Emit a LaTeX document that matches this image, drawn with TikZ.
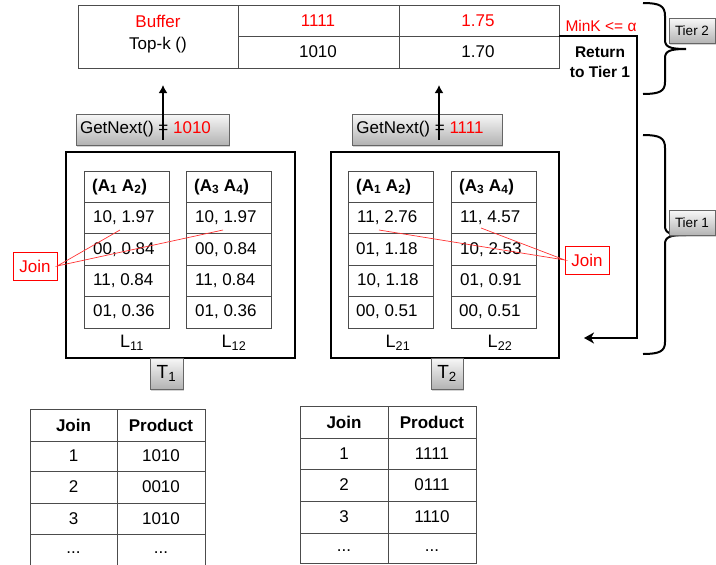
\documentclass[tikz,border=0pt]{standalone}
\usepackage{fontspec}
\setmainfont{Liberation Sans}
\usepackage{tikz}
\usetikzlibrary{shadows,arrows.meta}

\begin{document}
\begin{tikzpicture}[x=1pt,y=-1pt,
	every node/.style={font=\fontsize{17}{20}\selectfont},
	grid/.style={draw=black!70, line width=0.8pt},
	tbox/.style={draw=black, line width=2.2pt, inner sep=0pt},
	tag/.style={draw=black!60, top color=black!3, bottom color=black!30, drop shadow={opacity=0.35,shadow xshift=1pt,shadow yshift=-1.5pt}, inner sep=0pt},
	joinbox/.style={draw=red, text=red, minimum width=44pt, minimum height=28pt, inner sep=0pt},
	joinline/.style={red!80!white, line width=0.7pt},
	val/.style={anchor=west, inner sep=0pt},
	head/.style={font=\bfseries\fontsize{17}{20}\selectfont},
	lab/.style={font=\fontsize{18}{20}\selectfont},
	tierbrace/.style={line width=2pt},
	up/.style={-{Latex[length=8pt,width=9pt]}, line width=2pt}
	]
		\useasboundingbox (0,0) rectangle (716,565);
		%\draw [help lines,step=50] (0,0) grid (716,565);
		
		% buffer on top
		\draw[grid] (78,5) rectangle (559,68);
		\draw[grid] (238,5) -- (238,68) (399,5) -- (399,68) (238,36) -- (559,36);
		\node [text=red] (buf) at (158,21) {Buffer};
		\node (topk) at (158,45) {Top-k ()};
		\node [text=red] (b11) at (318,21) {1111};
		\node (b21) at (318,52) {1010};
		\node [text=red] (b12) at (478,21) {1.75};
		\node (b22) at (478,52) {1.70};
		\node [text=red,font=\fontsize{15.5}{18}\selectfont] (mink) at (601,26) {MinK <= α};
		\node [align=center,font=\bfseries\fontsize{15.5}{20}\selectfont] (ret) at (600,62) {Return\\to Tier 1};
		
		\coordinate (rs) at (559,36);
		\coordinate (re) at (584,338);
		\draw [line width=2pt,-{Stealth[length=10pt,width=11pt,inset=3pt]}] (rs) -- (637,36) -- (637,338) -- (re);
		
		% tiers
		\draw [tierbrace] (643,3) .. controls (660,3) and (665,6) .. (665,16) -- (665,40) .. controls (665,47) and (670,49) .. (686,49) .. controls (670,49) and (665,51) .. (665,58) -- (665,82) .. controls (665,91) and (660,94) .. (643,94);
		\draw [tierbrace] (643,135) .. controls (660,135) and (665,138) .. (665,148) -- (665,226) .. controls (665,233) and (670,235) .. (686,235) .. controls (670,235) and (665,237) .. (665,244) -- (665,342) .. controls (665,351) and (660,354) .. (643,354);
		\node [tag,minimum width=46pt,minimum height=25pt,font=\fontsize{13.5}{15}\selectfont] (tier2) at (692,31) {Tier 2};
		\node [tag,minimum width=46pt,minimum height=25pt,font=\fontsize{13.5}{15}\selectfont] (tier1) at (692,223) {Tier 1};
		
		% T1 and T2
		\node [tbox,minimum width=229pt,minimum height=206pt] (t1box) at (180.5,255) {};
		\node [tbox,minimum width=228pt,minimum height=206pt] (t2box) at (445,255) {};
		\node [tag,minimum width=33pt,minimum height=31pt,font=\fontsize{19}{20}\selectfont] (t1) at (166.5,373.5) {T\textsubscript{1}};
		\node [tag,minimum width=32pt,minimum height=31pt,font=\fontsize{19}{20}\selectfont] (t2) at (447,373.5) {T\textsubscript{2}};
		
		\node [tag,minimum width=153pt,minimum height=31pt] (gn1) at (152.5,129.5) {GetNext() = \textcolor{red}{1010}\rule{14pt}{0pt}};
		\node [tag,minimum width=150pt,minimum height=31pt] (gn2) at (427,129.5) {GetNext() = \textcolor{red}{1111}\rule{14pt}{0pt}};
		\coordinate (s1) at (163,140);
		\coordinate (a1) at (163,85);
		\coordinate (s2) at (439,140);
		\coordinate (a2) at (439,85);
		\draw [up] (s1) -- (a1);
		\draw [up] (s2) -- (a2);
		
		% lists L11 L12
		\draw [grid] (84,171) rectangle (169,328);
		\draw [grid] (84,202.4) -- (169,202.4) (84,233.8) -- (169,233.8) (84,265.2) -- (169,265.2) (84,296.6) -- (169,296.6);
		\draw [grid] (186,171) rectangle (271,328);
		\draw [grid] (186,202.4) -- (271,202.4) (186,233.8) -- (271,233.8) (186,265.2) -- (271,265.2) (186,296.6) -- (271,296.6);
		\node [val,head] (c11h) at (92,187) {(A\textsubscript{1} A\textsubscript{2})};
		\node [val] (c11a) at (93,218) {10, 1.97};
		\node [val] (c11b) at (93,249.5) {00, 0.84};
		\node [val] (c11c) at (93,281) {11, 0.84};
		\node [val] (c11d) at (93,312) {01, 0.36};
		\node [val,head] (c12h) at (194,187) {(A\textsubscript{3} A\textsubscript{4})};
		\node [val] (c12a) at (195,218) {10, 1.97};
		\node [val] (c12b) at (195,249.5) {00, 0.84};
		\node [val] (c12c) at (195,281) {11, 0.84};
		\node [val] (c12d) at (195,312) {01, 0.36};
		\node [lab] (l11) at (132,343) {L\textsubscript{11}};
		\node [lab] (l12) at (234,343) {L\textsubscript{12}};
		
		% lists L21 L22
		\draw [grid] (348,171) rectangle (433,328);
		\draw [grid] (348,202.4) -- (433,202.4) (348,233.8) -- (433,233.8) (348,265.2) -- (433,265.2) (348,296.6) -- (433,296.6);
		\draw [grid] (451,171) rectangle (536,328);
		\draw [grid] (451,202.4) -- (536,202.4) (451,233.8) -- (536,233.8) (451,265.2) -- (536,265.2) (451,296.6) -- (536,296.6);
		\node [val,head] (c21h) at (356,187) {(A\textsubscript{1} A\textsubscript{2})};
		\node [val] (c21a) at (357,218) {11, 2.76};
		\node [val] (c21b) at (356,249.5) {01, 1.18};
		\node [val] (c21c) at (357,281) {10, 1.18};
		\node [val] (c21d) at (356,312) {00, 0.51};
		\node [val,head] (c22h) at (459,187) {(A\textsubscript{3} A\textsubscript{4})};
		\node [val] (c22a) at (460,218) {11, 4.57};
		\node [val] (c22b) at (460,249.5) {10, 2.53};
		\node [val] (c22c) at (460,281) {01, 0.91};
		\node [val] (c22d) at (459,312) {00, 0.51};
		\node [lab] (l21) at (398,343) {L\textsubscript{21}};
		\node [lab] (l22) at (500,343) {L\textsubscript{22}};
		
		% joins
		\node [joinbox] (jl) at (35,266) {Join};
		\node [joinbox] (jr) at (587,260) {Join};
		\coordinate (jl1) at (120,230);
		\coordinate (jl2) at (223,230);
		\coordinate (jr1) at (379,230);
		\coordinate (jr2) at (481,228);
		\draw [joinline] (jl1) -- (jl.east) -- (jl2);
		\draw [joinline] (jr1) -- (jr.west) -- (jr2);
		
		% products of T1
		\draw [grid] (30,565) -- (30,409) -- (205,409) -- (205,565) (117,409) -- (117,565);
		\draw [grid] (30,441) -- (205,441) (30,471) -- (205,471) (30,503) -- (205,503) (30,534) -- (205,534);
		\node [head] (p1h) at (73.5,425) {Join};
		\node [head] (q1h) at (161,425) {Product};
		\node (p1a) at (73.5,456) {1};
		\node (q1a) at (161,456) {1010};
		\node (p1b) at (73.5,487) {2};
		\node (q1b) at (161,487) {0010};
		\node (p1c) at (73.5,518.5) {3};
		\node (q1c) at (161,518.5) {1010};
		\node (p1d) at (73.5,553) {...};
		\node (q1d) at (161,553) {...};
		
		% products of T2
		\draw [grid] (300,406) rectangle (476,563);
		\draw [grid] (388,406) -- (388,563);
		\draw [grid] (300,438) -- (476,438) (300,469) -- (476,469) (300,501) -- (476,501) (300,533) -- (476,533);
		\node [head] (p2h) at (344,422) {Join};
		\node [head] (q2h) at (432,422) {Product};
		\node (p2a) at (344,453.5) {1};
		\node (q2a) at (432,453.5) {1111};
		\node (p2b) at (344,485) {2};
		\node (q2b) at (432,485) {0111};
		\node (p2c) at (344,517) {3};
		\node (q2c) at (432,517) {1110};
		\node (p2d) at (344,551) {...};
		\node (q2d) at (432,551) {...};
	\end{tikzpicture}
\end{document}
